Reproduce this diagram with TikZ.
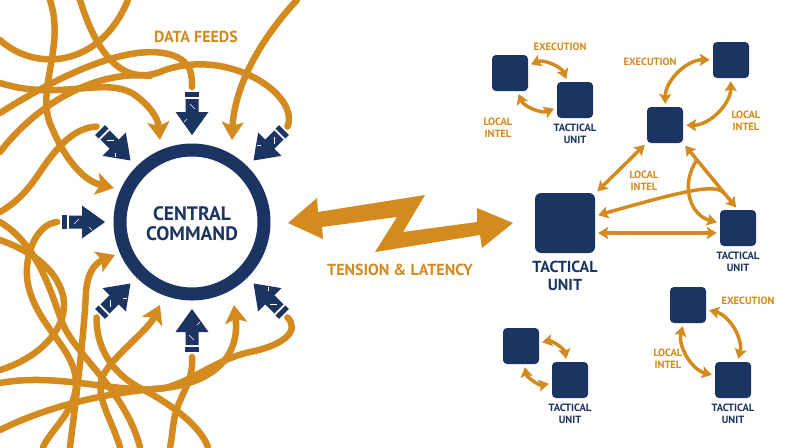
\documentclass[tikz,border=0pt]{standalone}
\usepackage{fontspec}
\setmainfont{PT Sans}
\usetikzlibrary{arrows.meta,positioning,calc}
\definecolor{navy}{HTML}{1C3461}
\definecolor{amber}{HTML}{D38A1F}
% inward block arrow round the ring: angle, name of its tail point
\newcommand{\cmdarrow}[2]{%
  \begin{scope}[shift={(cc)},rotate=#1]
    \fill[navy] (87,0) -- (110,16.5) -- (110,6.5) -- (123,6.5) -- (123,-6.5) -- (110,-6.5) -- (110,-16.5) -- cycle;
    \fill[navy] (125,-7) rectangle (130,7);
    \draw[white,line width=0.4pt] (113,3) -- (118,-2) (100,-8) -- (103,-5);
    \coordinate (#2) at (135,0);
  \end{scope}}
\tikzset{
  feed/.style={draw=amber,line width=6.5pt,line cap=round},
  feedin/.style={feed,-{Stealth[length=18pt,width=22pt,inset=4pt]}},
  unit/.style={fill=navy,rounded corners=4pt,minimum size=36pt,inner sep=0pt},
  bigunit/.style={unit,minimum size=60pt,rounded corners=6pt},
  link/.style={draw=amber,line width=3.5pt,{Stealth[length=10pt,width=12pt,inset=2pt]}-{Stealth[length=10pt,width=12pt,inset=2pt]},shorten <=3pt,shorten >=3pt},
  onelink/.style={draw=amber,line width=3.5pt,-{Stealth[length=10pt,width=12pt,inset=2pt]},shorten >=3pt},
  tag/.style={text=amber,font=\bfseries\fontsize{10.5}{11.5}\selectfont,align=center,inner sep=0pt},
  unitname/.style={text=navy,font=\bfseries\fontsize{10.5}{12}\selectfont,align=center,inner sep=0pt},
}
\begin{document}
\begin{tikzpicture}[x=1pt,y=-1pt]
\clip (0,0) rectangle (800,447);
\fill[white] (0,0) rectangle (800,447);
\coordinate (cc) at (192,222);

% command arrows
\foreach \a in {45,90,135,180,225,270,315}{\cmdarrow{\a}{t\a}}

% data feeds
\draw[feed] (0,40) .. controls (35,72) and (100,68) .. (128,0);
\draw[feedin] (50,0) .. controls (66,48) and (34,92) .. (52,128) .. controls (62,152) and (80,180) .. (114,188);
\draw[feed] (80,0) .. controls (98,58) and (125,88) .. (165,70) .. controls (230,48) and (300,95) .. (t45);
\draw[feed] (0,113) .. controls (60,75) and (130,42) .. (172,55) .. controls (192,62) and (192,75) .. (t90);
\draw[feed] (t135) .. controls (72,128) and (55,150) .. (40,172) .. controls (25,195) and (12,205) .. (0,212);
\draw[feedin] (0,83) .. controls (60,102) and (105,75) .. (135,95) .. controls (150,106) and (158,118) .. (160,140);
\draw[feed] (0,152) .. controls (40,100) and (100,70) .. (150,76);
\draw[feedin] (297,0) .. controls (255,45) and (234,92) .. (232,140);
\draw[feed] (t180) .. controls (35,224) and (20,262) .. (30,292) .. controls (42,330) and (75,350) .. (76,382) .. controls (77,410) and (52,428) .. (43,447);
\draw[feed] (0,222) .. controls (38,245) and (50,290) .. (62,322) .. controls (75,355) and (125,390) .. (140,447);
\draw[feedin] (70,447) .. controls (76,400) and (84,335) .. (86,292) .. controls (88,268) and (98,262) .. (115,255);
\draw[feed] (0,370) .. controls (45,356) and (72,322) .. (62,292) .. controls (52,262) and (22,248) .. (0,240);
\draw[feed] (t315) .. controls (300,330) and (285,345) .. (250,352) .. controls (215,360) and (195,380) .. (165,388) .. controls (120,395) and (60,372) .. (0,383);
\draw[feed] (t270) .. controls (194,380) and (180,395) .. (175,415) .. controls (172,430) and (172,440) .. (170,447);
\draw[feedin] (120,447) .. controls (110,415) and (92,392) .. (105,372) .. controls (118,352) and (148,330) .. (160,305);
\draw[feedin] (0,430) .. controls (50,405) and (110,392) .. (165,388) .. controls (215,382) and (240,355) .. (234,305);
\draw[feed] (t225) .. controls (96,345) and (110,372) .. (140,388) .. controls (168,402) and (200,425) .. (208,447);

% central command
\draw[navy,line width=13pt] (cc) circle[radius=72pt];
\node[text=navy,font=\bfseries\fontsize{19.5}{20}\selectfont,align=center] (cmd) at (192,224) {CENTRAL\\COMMAND};
\node[text=amber,font=\bfseries\fontsize{16}{18}\selectfont] (feeds) at (196,37) {DATA FEEDS};

% tension
\fill[amber] (288,223) -- (317,198) -- (318,212) -- (425,195) -- (403,232) -- (477,222) -- (477,208)
  -- (513,223) -- (482,248) -- (480,235) -- (375,252) -- (397,217) -- (322,227) -- (323,239) -- cycle;
\node[text=amber,font=\bfseries\fontsize{16}{18}\selectfont] (tens) at (400,270) {TENSION \& LATENCY};

% tactical units
\node[unit] (ua) at (510,73) {};
\node[unit] (ub) at (575,100) {};
\node[unit] (uc) at (731,60) {};
\node[unit] (ud) at (665,125) {};
\node[bigunit] (ue) at (565,223) {};
\node[unit] (uf) at (738,228) {};
\node[unit] (ug) at (521,346) {};
\node[unit] (uh) at (570,380) {};
\node[unit] (ui) at (688,305) {};
\node[unit] (uj) at (733,380) {};

\node[unitname,below=6pt of ub] (nb) {TACTICAL\\UNIT};
\node[unitname,font=\bfseries\fontsize{16}{18}\selectfont,below=8pt of ue] (ne) {TACTICAL\\UNIT};
\node[unitname,below=6pt of uf] (nf) {TACTICAL\\UNIT};
\node[unitname,below=6pt of uh] (nh) {TACTICAL\\UNIT};
\node[unitname,below=6pt of uj] (nj) {TACTICAL\\UNIT};

\node[tag] (ex1) at (560,47) {EXECUTION};
\node[tag] (li1) at (498,128) {LOCAL\\INTEL};
\node[tag] (ex2) at (650,62) {EXECUTION};
\node[tag] (li2) at (746,121) {LOCAL\\INTEL};
\node[tag] (li3) at (644,181) {LOCAL\\INTEL};
\node[tag] (ex5) at (748,301) {EXECUTION};
\node[tag] (li5) at (668,359) {LOCAL\\INTEL};

% links
\draw[link] (ua) to[bend left=45] (ub);
\draw[link] (ua) to[bend right=45] (ub);
\draw[link] (ud) to[bend left=45] (uc);
\draw[link] (ud) to[bend right=45] (uc);
\draw[link] (ud) -- (ue);
\draw[link] (ud.south east) -- (uf.north);
\draw[link] ([yshift=-10pt]ue.east) -- ([yshift=-10pt]ue.east -| uf.west);
\coordinate (spl) at ($(ud.south east)!0.25!(uf.north)$);
\coordinate (mrg) at ($(ud.south east)!0.78!(uf.north)$);
\draw[onelink] (mrg) .. controls (718,184) and (700,186) .. ([yshift=7pt]ue.east);
\draw[onelink] (spl) .. controls (680,185) and (690,215) .. (uf.165);
\draw[link] (ug) to[bend left=45] (uh);
\draw[link] (ug) to[bend right=45] (uh);
\draw[link] (ui) to[bend left=45] (uj);
\draw[link] (ui) to[bend right=45] (uj);
\end{tikzpicture}
\end{document}
